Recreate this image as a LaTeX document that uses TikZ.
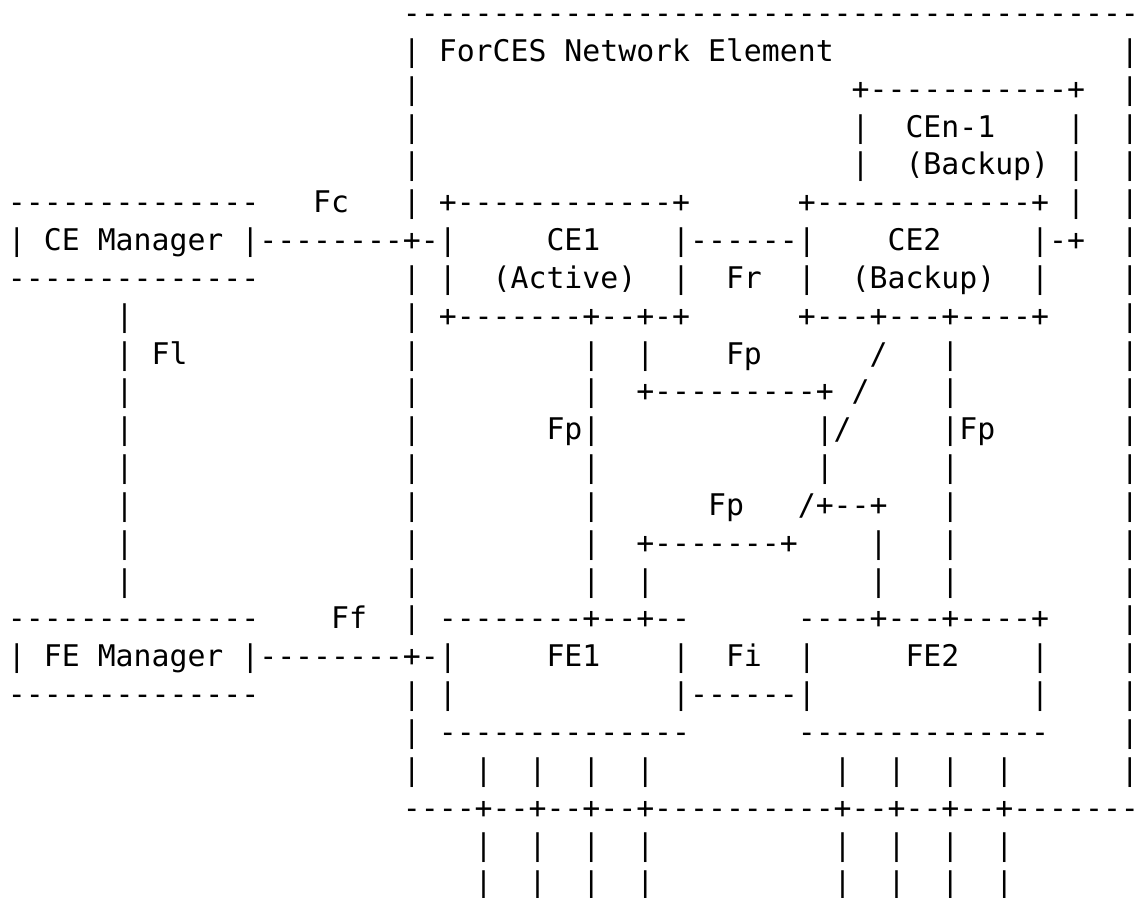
\documentclass[tikz,border=0pt]{standalone}
\usepackage{fontspec}
\setmonofont{DejaVu Sans Mono}
\usepackage{tikz}

\tikzset{ascii/.style={anchor=base west, inner sep=0pt, outer sep=0pt,
    font=\ttfamily\fontsize{14.91}{18}\selectfont}}
% one run of characters, placed at row #1, column #2
\newcommand{\asc}[3]{\node[ascii] (r#1c#2) at ({8+17.95*#2},{23.5+37.84*(#1-1)}) {#3};}

\begin{document}
\begin{tikzpicture}[x=0.5pt, y=-0.5pt]
        \useasboundingbox (0,0) rectangle (1135,898);

        \asc{1}{22}{------------------------------------------------}
        \asc{2}{22}{| ForCES Network Element} \asc{2}{62}{|}
        \asc{3}{22}{|} \asc{3}{47}{+-----------+} \asc{3}{62}{|}
        \asc{4}{22}{|} \asc{4}{47}{|} \asc{4}{50}{CEn-1} \asc{4}{59}{|} \asc{4}{62}{|}
        \asc{5}{22}{|} \asc{5}{47}{|} \asc{5}{50}{(Backup) |} \asc{5}{62}{|}
        \asc{6}{0}{--------------} \asc{6}{17}{Fc} \asc{6}{22}{| +------------+}
        \asc{6}{44}{+------------+ |} \asc{6}{62}{|}
        \asc{7}{0}{| CE Manager |--------+-|} \asc{7}{30}{CE1} \asc{7}{37}{|------|}
        \asc{7}{49}{CE2} \asc{7}{57}{|-+} \asc{7}{62}{|}
        \asc{8}{0}{--------------} \asc{8}{22}{| |} \asc{8}{27}{(Active)} \asc{8}{37}{|}
        \asc{8}{40}{Fr} \asc{8}{44}{|} \asc{8}{47}{(Backup)} \asc{8}{57}{|} \asc{8}{62}{|}
        \asc{9}{6}{|} \asc{9}{22}{| +-------+--+-+} \asc{9}{44}{+---+---+----+} \asc{9}{62}{|}
        \asc{10}{6}{| Fl} \asc{10}{22}{|} \asc{10}{32}{|} \asc{10}{35}{|} \asc{10}{40}{Fp}
        \asc{10}{48}{/} \asc{10}{52}{|} \asc{10}{62}{|}
        \asc{11}{6}{|} \asc{11}{22}{|} \asc{11}{32}{|} \asc{11}{35}{+---------+ /}
        \asc{11}{52}{|} \asc{11}{62}{|}
        \asc{12}{6}{|} \asc{12}{22}{|} \asc{12}{30}{Fp|} \asc{12}{45}{|/} \asc{12}{52}{|Fp}
        \asc{12}{62}{|}
        \asc{13}{6}{|} \asc{13}{22}{|} \asc{13}{32}{|} \asc{13}{45}{|} \asc{13}{52}{|} \asc{13}{62}{|}
        \asc{14}{6}{|} \asc{14}{22}{|} \asc{14}{32}{|} \asc{14}{39}{Fp} \asc{14}{44}{/+--+}
        \asc{14}{52}{|} \asc{14}{62}{|}
        \asc{15}{6}{|} \asc{15}{22}{|} \asc{15}{32}{|} \asc{15}{35}{+-------+} \asc{15}{48}{|}
        \asc{15}{52}{|} \asc{15}{62}{|}
        \asc{16}{6}{|} \asc{16}{22}{|} \asc{16}{32}{|} \asc{16}{35}{|} \asc{16}{48}{|}
        \asc{16}{52}{|} \asc{16}{62}{|}
        \asc{17}{0}{--------------} \asc{17}{18}{Ff} \asc{17}{22}{| --------+--+--}
        \asc{17}{44}{----+---+----+} \asc{17}{62}{|}
        \asc{18}{0}{| FE Manager |--------+-|} \asc{18}{30}{FE1} \asc{18}{37}{|}
        \asc{18}{40}{Fi} \asc{18}{44}{|} \asc{18}{50}{FE2} \asc{18}{57}{|} \asc{18}{62}{|}
        \asc{19}{0}{--------------} \asc{19}{22}{| |} \asc{19}{37}{|------|} \asc{19}{57}{|}
        \asc{19}{62}{|}
        \asc{20}{22}{| --------------} \asc{20}{44}{--------------} \asc{20}{62}{|}
        \asc{21}{22}{|} \asc{21}{62}{|}
        \foreach \c in {26,29,32,35,46,49,52,55} {
            \asc{21}{\c}{|} \asc{23}{\c}{|} \asc{24}{\c}{|}
        }
        \asc{22}{22}{----+--+--+--+----------+--+--+--+--------------}
    \end{tikzpicture}
\end{document}
